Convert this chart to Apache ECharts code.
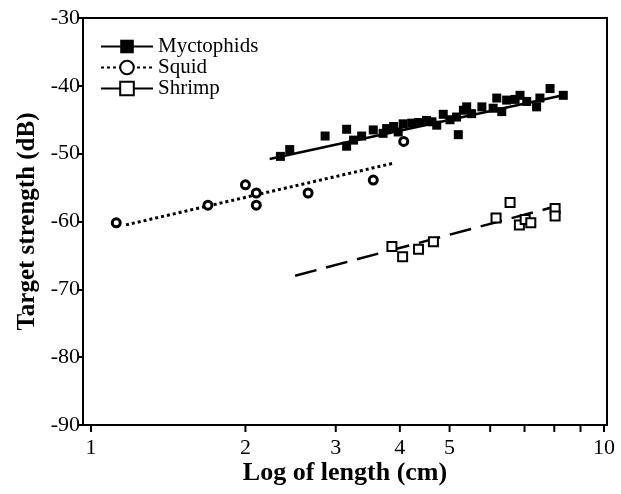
<!DOCTYPE html>
<html>
<head>
<meta charset="utf-8">
<script src="https://cdn.jsdelivr.net/npm/echarts@6/dist/echarts.min.js"></script>
<style>
  html, body { margin: 0; padding: 0; background: #fff; }
  #chart { width: 621px; height: 494px; }
</style>
</head>
<body>
<div id="chart"></div>
<script>
// data
var myctoLen = [2.34, 2.44, 2.86, 3.15, 3.15, 3.25, 3.37, 3.55, 3.71, 3.77, 3.89, 3.97, 4.06, 4.22, 4.35, 4.51, 4.62, 4.72, 4.86, 5.01, 5.16, 5.20, 5.32, 5.40, 5.52, 5.78, 6.08, 6.18, 6.32, 6.46, 6.71, 6.86, 7.07, 7.39, 7.50, 7.85, 8.33];
var myctoTs = [-50.4, -49.4, -47.4, -46.4, -48.9, -48.0, -47.4, -46.5, -47.0, -46.3, -46.0, -46.8, -45.6, -45.5, -45.4, -45.1, -45.3, -45.8, -44.2, -45.0, -44.6, -47.2, -43.6, -43.1, -44.1, -43.1, -43.3, -41.8, -43.8, -42.1, -42.0, -41.4, -42.3, -43.1, -41.8, -40.4, -41.4];

var squidLen = [1.12, 1.69, 2.00, 2.10, 2.10, 2.65, 3.55, 4.07];
var squidTs = [-60.2, -57.6, -54.6, -55.8, -57.6, -55.8, -53.9, -48.2];

var shrimpLen = [3.86, 4.05, 4.35, 4.65, 6.16, 6.56, 6.84, 7.02, 7.20, 8.03, 8.03];
var shrimpTs = [-63.7, -65.2, -64.1, -63.0, -59.5, -57.2, -60.5, -59.7, -60.2, -58.1, -59.2];

// regression lines (end points)
var myctoFitLen = [2.23, 8.32], myctoFitTs = [-50.8, -41.4];
var squidFitLen = [1.17, 3.89], squidFitTs = [-60.5, -51.4];
var shrimpFitLen = [2.50, 8.03], shrimpFitTs = [-68.0, -57.8];

var xTicks = [1, 2, 3, 4, 5, 6, 7, 8, 9, 10];
var xTickLabels = ['1', '2', '3', '4', '5', '', '', '', '', '10'];

function pairs(xs, ys) {
  return xs.map(function (x, i) { return [x, ys[i]]; });
}

var serif = 'Liberation Serif';

;(function () {
  var myChart = echarts.init(document.getElementById('chart'));

  var option = {
    backgroundColor: '#fff',
    animation: false,
    grid: {
      left: 83, right: 14, top: 18, bottom: 69,
      show: true, borderColor: '#000', borderWidth: 2,
      outerBoundsMode: 'none'
    },
    legend: {
      data: ['Myctophids', 'Squid', 'Shrimp'],
      orient: 'vertical',
      left: 95, top: 31,
      itemWidth: 52, itemHeight: 17, itemGap: 0,
      textStyle: { fontFamily: serif, fontSize: 21, color: '#000' }
    },
    xAxis: {
      type: 'log',
      logBase: 10,
      min: 0.9647,
      max: 10.136,
      name: 'Log of length (cm)',
      nameLocation: 'middle',
      nameGap: 35,
      nameTextStyle: { fontFamily: serif, fontSize: 26, fontWeight: 'bold', color: '#000' },
      axisLine: { lineStyle: { color: '#000', width: 2 } },
      axisTick: { show: false },
      axisLabel: { show: false },
      splitLine: { show: false },
      minorSplitLine: { show: false }
    },
    yAxis: {
      type: 'value',
      min: -90, max: -30, interval: 10,
      name: 'Target strength (dB)',
      nameLocation: 'middle',
      nameGap: 39,
      nameTextStyle: { fontFamily: serif, fontSize: 25, fontWeight: 'bold', color: '#000' },
      axisLine: { show: true, lineStyle: { color: '#000', width: 2 } },
      axisTick: { show: true, length: 5, lineStyle: { color: '#000', width: 2 } },
      axisLabel: { fontFamily: serif, fontSize: 22, color: '#000', margin: 3 },
      splitLine: { show: false }
    },
    series: [
      {
        name: 'Myctophids', type: 'line',
        data: pairs(myctoFitLen, myctoFitTs),
        showSymbol: false, symbol: 'rect', symbolSize: 14,
        itemStyle: { color: '#000' },
        lineStyle: { color: '#000', width: 2.5 },
        z: 3
      },
      {
        name: 'Squid', type: 'line',
        data: pairs(squidFitLen, squidFitTs),
        showSymbol: false, symbol: 'circle', symbolSize: 12,
        itemStyle: { color: '#fff', borderColor: '#000', borderWidth: 3 },
        lineStyle: { color: '#000', width: 3, type: [3, 3] },
        z: 3
      },
      {
        name: 'Shrimp', type: 'line',
        data: pairs(shrimpFitLen, shrimpFitTs),
        showSymbol: false, symbol: 'rect', symbolSize: 14,
        itemStyle: { color: '#fff', borderColor: '#000', borderWidth: 2 },
        lineStyle: { color: '#000', width: 2.5, type: [22, 10] },
        z: 3
      },
      {
        name: 'Myctophids', type: 'scatter',
        data: pairs(myctoLen, myctoTs),
        symbol: 'rect', symbolSize: 9,
        itemStyle: { color: '#000', opacity: 1 },
        z: 4
      },
      {
        name: 'Squid', type: 'scatter',
        data: pairs(squidLen, squidTs),
        symbol: 'circle', symbolSize: 8,
        itemStyle: { color: '#fff', borderColor: '#000', borderWidth: 3, opacity: 1 },
        z: 4
      },
      {
        name: 'Shrimp', type: 'scatter',
        data: pairs(shrimpLen, shrimpTs),
        symbol: 'rect', symbolSize: 9,
        itemStyle: { color: '#fff', borderColor: '#000', borderWidth: 2, opacity: 1 },
        z: 4
      },
      {
        // x axis ticks and labels at 1..10
        name: 'xticks', type: 'scatter',
        data: xTicks.map(function (v) { return [v, -90]; }),
        symbol: 'rect', symbolSize: [2, 7], symbolOffset: [0, 3.5],
        itemStyle: { color: '#000', opacity: 1 },
        clip: false, silent: true,
        label: {
          show: true, position: 'bottom', distance: 5,
          fontFamily: serif, fontSize: 22, color: '#000',
          formatter: function (p) { return xTickLabels[p.dataIndex]; }
        },
        z: 5
      }
    ]
  };

  myChart.setOption(option);
})();
</script>
</body>
</html>
